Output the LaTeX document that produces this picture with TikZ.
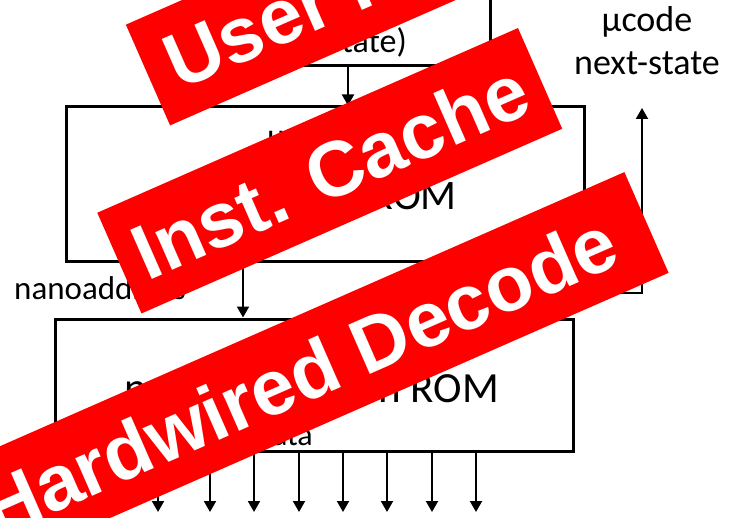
\documentclass[tikz,border=0pt]{standalone}
\usepackage{fontspec}
\setmainfont{Carlito}
\newfontfamily\bannerfont{Liberation Sans}
\usetikzlibrary{arrows.meta}

\begin{document}
\begin{tikzpicture}[x=1pt,y=-1pt,
  box/.style={draw=black, line width=3pt, minimum width=518pt, inner sep=0pt},
  lbl/.style={inner sep=0pt, text=black},
  arr/.style={line width=2pt, -{Triangle[length=11pt,width=12pt]}},
  banner/.style={fill=red, text=white, rotate=23.7, minimum height=110pt,
    inner sep=0pt, font=\bannerfont\bfseries\fontsize{78}{78}\selectfont}
]
% canvas
\fill[white] (0,0) rectangle (730,518);
\useasboundingbox (0,0) rectangle (730,518);

% state register, microcode ROM and nanoinstruction ROM
\node[box, minimum width=284pt, minimum height=86pt] (upc) at (348,23) {};
\node[lbl, anchor=base east, font=\fontsize{34}{34}\selectfont] (upctxt) at (407,53) {µPC (state)};

\node[box, minimum height=155pt] (urom) at (325,184.5) {};
\node[lbl, anchor=base west, font=\fontsize{34}{34}\selectfont] (uaddr) at (267,148) {µaddress};
\node[lbl, anchor=base east, font=\fontsize{42}{42}\selectfont] (uromtxt) at (457,210) {µcode ROM};

\node[box, minimum height=132pt] (nrom) at (314,385) {};
\node[lbl, anchor=base, font=\fontsize{43}{43}\selectfont] (nromtxt) at (312,402) {nanoinstruction ROM};
\node[lbl, anchor=base east, font=\fontsize{32}{32}\selectfont] (data) at (313,445) {data};

% outside labels
\node[lbl, anchor=base west, font=\fontsize{33}{33}\selectfont] (naddr) at (14,300) {nanoaddress};
\node[lbl, anchor=base, font=\fontsize{36}{36}\selectfont] (nsl1) at (647,32) {µcode};
\node[lbl, anchor=base, font=\fontsize{36}{36}\selectfont] (nsl2) at (647,75) {next-state};

% connectors
\coordinate (a1) at (348,0);
\draw[arr] (upc.south -| a1) -- (urom.north -| a1);
\coordinate (a2) at (243,0);
\draw[arr] (urom.south -| a2) -- (nrom.north -| a2);
\coordinate (fb) at (530,293);
\coordinate (nsout) at (642,108);
\draw[arr] (urom.south -| fb) -- (fb) -- (fb -| nsout) -- (nsout);
\foreach \x [count=\i] in {158,210,254,299,343,387,432,476} {
  \coordinate (o\i) at (\x,512);
  \draw[arr] (nrom.south -| o\i) -- (o\i);
}

% red overlay banners
\node[banner, minimum width=348pt] (bUser) at (307.3,5.1) {User PC};
\node[banner, minimum width=459.5pt] (bInst) at (329.75,170.75) {Inst. Cache};
\node[banner, minimum width=759pt] (bHw) at (299,375) {Hardwired Decode};
\end{tikzpicture}
\end{document}
